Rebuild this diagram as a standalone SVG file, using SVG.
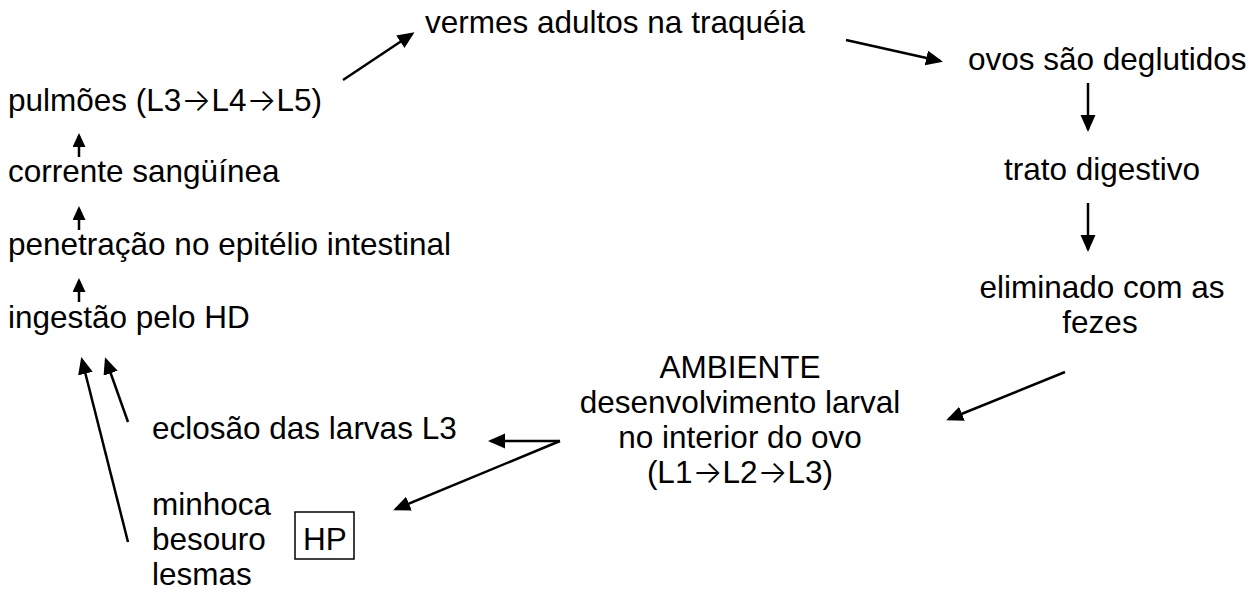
<svg xmlns="http://www.w3.org/2000/svg" width="1255" height="592" viewBox="0 0 1255 592">
<style>
text{font-family:"Liberation Sans",Arial,sans-serif;font-size:31.5px;fill:#000}
.c{text-anchor:middle}
.ar{font-family:Inter,"DejaVu Sans",sans-serif;font-weight:300;font-size:31.5px}
.ln{stroke:#000;stroke-width:2.5;fill:none}
.big{marker-end:url(#ah)}
.sm{marker-end:url(#as)}
</style>
<defs>
<marker id="ah" markerUnits="userSpaceOnUse" markerWidth="20" markerHeight="16" refX="14" refY="7.5" orient="auto">
<path d="M0,0 L17,7.5 L0,15 z" fill="#000"/>
</marker>
<marker id="as" markerUnits="userSpaceOnUse" markerWidth="16" markerHeight="14" refX="11" refY="6.5" orient="auto">
<path d="M0,0 L14,6.5 L0,13 z" fill="#000"/>
</marker>
</defs>
<rect width="1255" height="592" fill="#fff"/>
<g id="pulmoes"><text x="8" y="111">pulmões (L3<tspan class="ar">→</tspan>L4<tspan class="ar">→</tspan>L5)</text></g>
<g id="corrente"><text x="8" y="182">corrente sangüínea</text></g>
<g id="penetracao"><text x="8" y="255">penetração no epitélio intestinal</text></g>
<g id="ingestao"><text x="8" y="328">ingestão pelo HD</text></g>
<g id="vermes"><text x="425" y="33">vermes adultos na traquéia</text></g>
<g id="ovos"><text x="968" y="70">ovos são deglutidos</text></g>
<g id="trato"><text class="c" x="1102" y="180">trato digestivo</text></g>
<g id="eliminado"><text class="c" x="1102" y="298">eliminado com as</text><text class="c" x="1100" y="333">fezes</text></g>
<g id="ambiente"><text class="c" x="740" y="378">AMBIENTE</text><text class="c" x="740" y="413">desenvolvimento larval</text><text class="c" x="740" y="448">no interior do ovo</text><text class="c" x="740" y="483">(L1<tspan class="ar">→</tspan>L2<tspan class="ar">→</tspan>L3)</text></g>
<g id="eclosao"><text x="152" y="439">eclosão das larvas L3</text></g>
<g id="hospedeiros"><text x="152" y="515">minhoca</text><text x="152" y="550">besouro</text><text x="152" y="585">lesmas</text></g>
<g id="hp"><rect x="295" y="512" width="59" height="47" fill="none" stroke="#000" stroke-width="1.5"/><text x="303" y="550">HP</text></g>
<g id="connectors">
<line class="ln sm" x1="79" y1="157" x2="79" y2="136"/>
<line class="ln sm" x1="79" y1="230" x2="79" y2="209"/>
<line class="ln sm" x1="79" y1="302" x2="79" y2="281"/>
<line class="ln big" x1="343" y1="80" x2="412" y2="34"/>
<line class="ln big" x1="846" y1="40" x2="940" y2="61"/>
<line class="ln big" x1="1088" y1="83" x2="1088" y2="129"/>
<line class="ln big" x1="1088" y1="203" x2="1088" y2="249"/>
<line class="ln big" x1="1065" y1="372" x2="949" y2="419"/>
<polyline class="ln big" points="560,441 491,441"/>
<line class="ln big" x1="560" y1="441" x2="396" y2="509"/>
<line class="ln big" x1="128" y1="422" x2="106" y2="360"/>
<line class="ln big" x1="128" y1="542" x2="82" y2="360"/>
</g>
</svg>
